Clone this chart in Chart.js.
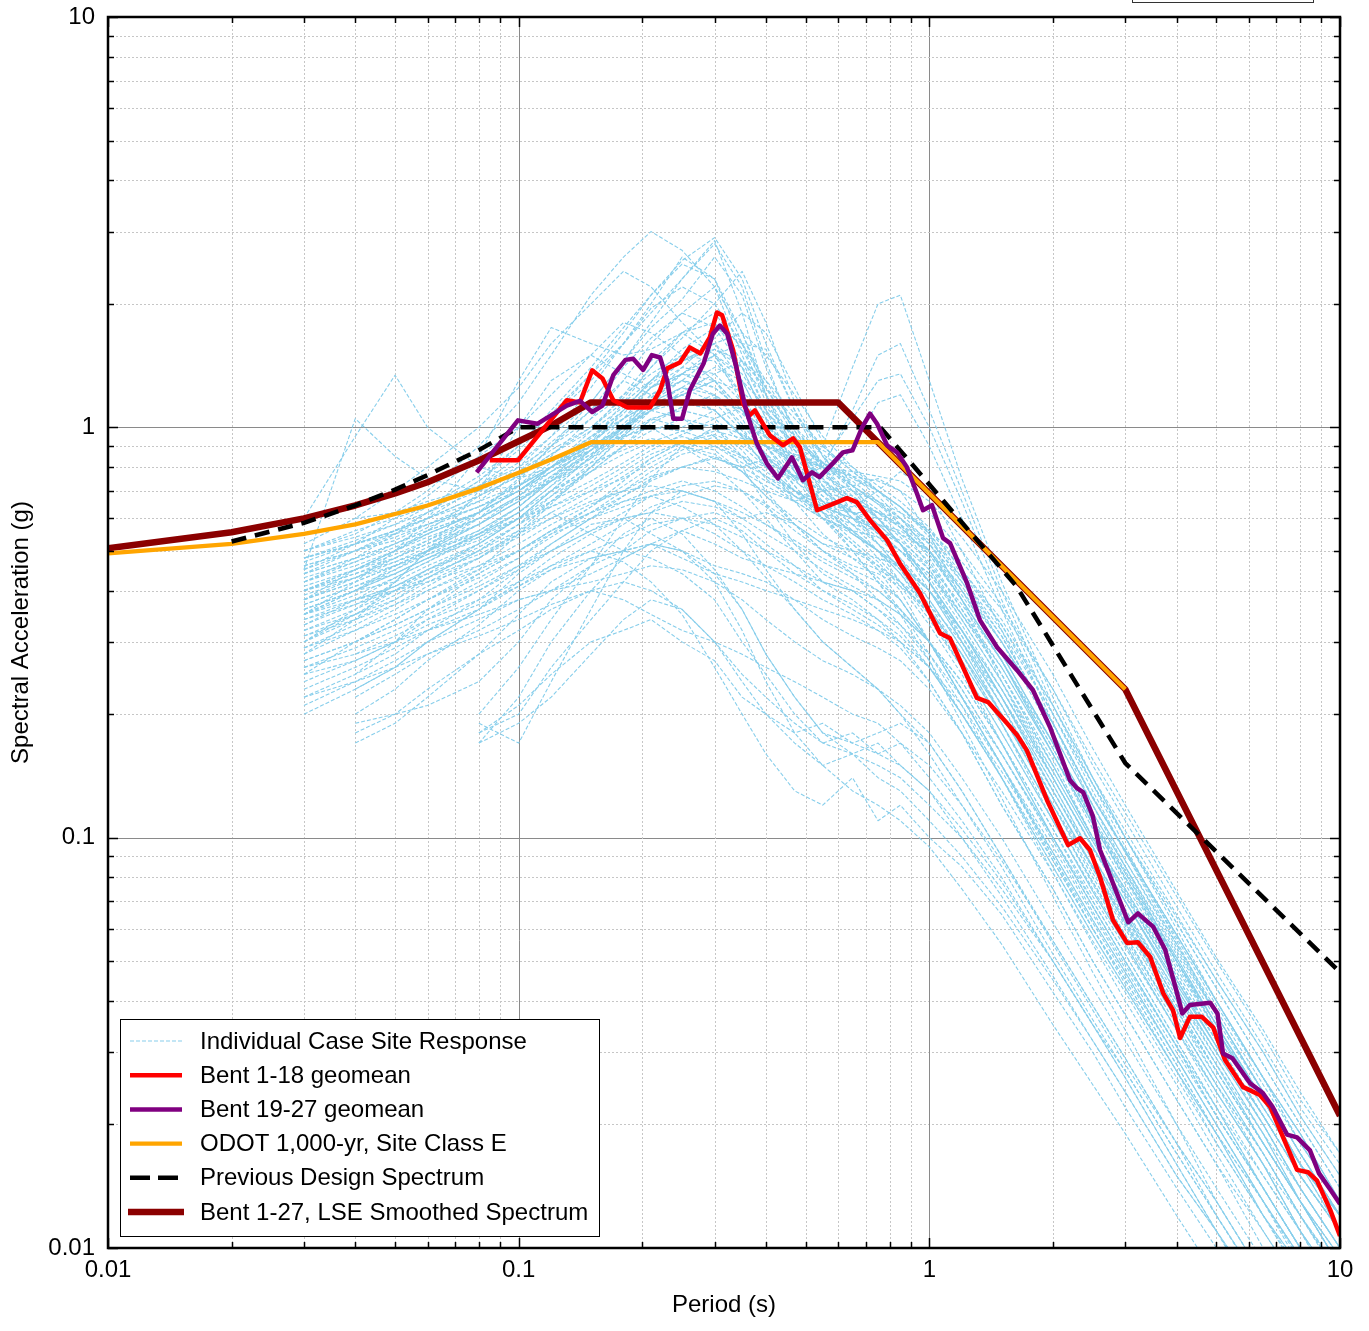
<!DOCTYPE html>
<html>
<head>
<meta charset="utf-8">
<script src="https://cdn.jsdelivr.net/npm/chart.js@4.4.1/dist/chart.umd.min.js"></script>
<style>
  html, body { margin: 0; padding: 0; background: #fff; }
  canvas { display: block; }
</style>
</head>
<body>
<canvas id="spectraChart" width="1369" height="1331"></canvas>
<script>
// Periods (s) shared by the individual case site response spectra
const casePeriods = [0.03, 0.04, 0.05, 0.06, 0.08, 0.1, 0.12, 0.15, 0.18, 0.21, 0.25, 0.3, 0.35, 0.4, 0.47,
  0.55, 0.65, 0.75, 0.85, 1.0, 1.2, 1.5, 2.0, 2.5, 3.0, 4.0, 5.0, 6.5, 8.0, 10];

// Individual case spectral accelerations (g); null where a case was not computed
const caseSpectra = [
  [0.42, 0.48, 0.55, 0.6, 0.72, 0.85, 1.05, 1.35, 1.6, 1.9, 2.3, 2.85, 1.9, 1.2, 0.85, 0.7, 0.62, 0.55, 0.5, 0.42, 0.3, 0.2, 0.12, 0.085, 0.062, 0.038, 0.027, 0.018, 0.013, 0.0095],
  [0.5, 0.55, 0.62, 0.7, 0.9, 1.15, 1.5, 2.1, 2.6, 3.0, 2.7, 2.2, 1.5, 1.1, 0.8, 0.65, 0.55, 0.5, 0.42, 0.35, 0.26, 0.17, 0.1, 0.07, 0.052, 0.032, 0.022, 0.014, 0.01, 0.007],
  [0.38, 0.45, 0.5, 0.56, 0.68, 0.8, 0.95, 1.25, 1.6, 2.0, 2.6, 2.3, 1.6, 1.15, 0.9, 0.72, 0.6, 0.52, 0.45, 0.36, 0.28, 0.19, 0.11, 0.075, 0.056, 0.035, 0.024, 0.016, 0.011, 0.008],
  [0.35, 0.4, 0.46, 0.5, 0.6, 0.72, 0.85, 1.05, 1.3, 1.6, 1.9, 2.2, 1.7, 1.25, 0.95, 0.8, 0.66, 0.6, 0.52, 0.4, 0.3, 0.21, 0.13, 0.09, 0.066, 0.042, 0.03, 0.02, 0.014, 0.01],
  [0.45, 0.52, 0.6, 0.68, 0.85, 1.0, 1.2, 1.5, 1.8, 1.7, 1.5, 1.3, 1.05, 0.85, 0.7, 0.6, 0.52, 0.46, 0.4, 0.3, 0.22, 0.15, 0.09, 0.06, 0.045, 0.028, 0.019, 0.012, 0.009, 0.006],
  [0.3, 0.35, 0.4, 0.44, 0.52, 0.6, 0.7, 0.85, 1.0, 1.15, 1.3, 1.5, 1.35, 1.1, 0.9, 0.75, 0.62, 0.55, 0.48, 0.38, 0.29, 0.2, 0.125, 0.085, 0.064, 0.04, 0.028, 0.019, 0.013, 0.0095],
  [0.4, 0.45, 0.5, 0.55, 0.62, 0.7, 0.8, 0.95, 1.05, 1.15, 1.2, 1.1, 0.95, 0.8, 0.68, 0.6, 0.55, 0.5, 0.45, 0.37, 0.28, 0.19, 0.115, 0.078, 0.058, 0.036, 0.025, 0.017, 0.012, 0.0085],
  [0.48, 0.52, 0.56, 0.6, 0.66, 0.72, 0.8, 0.88, 0.95, 1.0, 0.98, 0.92, 0.85, 0.78, 0.7, 0.62, 0.56, 0.5, 0.46, 0.4, 0.32, 0.23, 0.14, 0.095, 0.07, 0.044, 0.031, 0.021, 0.015, 0.011],
  [0.28, 0.32, 0.36, 0.4, 0.46, 0.52, 0.58, 0.65, 0.7, 0.72, 0.7, 0.66, 0.62, 0.58, 0.53, 0.48, 0.44, 0.4, 0.36, 0.3, 0.24, 0.17, 0.105, 0.072, 0.054, 0.034, 0.024, 0.016, 0.011, 0.008],
  [0.52, 0.6, 0.7, 0.8, 1.0, 1.25, 1.6, 2.0, 2.4, 2.2, 1.8, 1.5, 1.15, 0.9, 0.72, 0.6, 0.52, 0.45, 0.38, 0.3, 0.22, 0.15, 0.088, 0.06, 0.044, 0.027, 0.018, 0.012, 0.0085, 0.006],
  [0.3, 0.36, 0.42, 0.5, 0.62, 0.75, 0.9, 1.1, 1.4, 1.65, 1.9, 1.75, 1.4, 1.05, 0.82, 0.68, 0.58, 0.5, 0.44, 0.35, 0.26, 0.18, 0.11, 0.074, 0.055, 0.034, 0.023, 0.015, 0.011, 0.0075],
  [0.22, 0.25, 0.28, 0.32, 0.38, 0.45, 0.52, 0.6, 0.68, 0.75, 0.8, 0.85, 0.78, 0.68, 0.58, 0.5, 0.44, 0.38, 0.33, 0.27, 0.2, 0.14, 0.085, 0.058, 0.043, 0.027, 0.019, 0.013, 0.009, 0.0065],
  [0.25, 0.3, 0.34, 0.38, 0.45, 0.55, 0.65, 0.8, 0.95, 1.1, 1.2, 1.3, 1.1, 0.9, 0.75, 0.7, 0.72, 0.75, 0.7, 0.55, 0.38, 0.24, 0.14, 0.095, 0.07, 0.043, 0.03, 0.02, 0.014, 0.01],
  [0.36, 0.4, 0.44, 0.48, 0.55, 0.62, 0.72, 0.88, 1.05, 1.25, 1.45, 1.6, 1.4, 1.05, 0.78, 0.62, 0.5, 0.42, 0.36, 0.28, 0.21, 0.14, 0.082, 0.055, 0.04, 0.025, 0.017, 0.011, 0.008, 0.0055],
  [0.2, 0.23, 0.26, 0.3, 0.36, 0.42, 0.48, 0.55, 0.6, 0.62, 0.6, 0.55, 0.5, 0.46, 0.42, 0.38, 0.35, 0.32, 0.29, 0.24, 0.18, 0.12, 0.075, 0.05, 0.037, 0.023, 0.016, 0.011, 0.008, 0.0055],
  [0.5, 0.56, 0.6, 0.64, 0.72, 0.82, 0.95, 1.15, 1.45, 1.8, 2.3, 2.8, 2.2, 1.45, 0.95, 0.72, 0.6, 0.56, 0.5, 0.44, 0.34, 0.24, 0.15, 0.1, 0.075, 0.047, 0.033, 0.022, 0.016, 0.012],
  [0.4, 0.45, 0.48, 0.52, 0.58, 0.66, 0.76, 0.9, 1.1, 1.3, 1.5, 1.45, 1.2, 0.95, 0.78, 0.66, 0.58, 0.52, 0.47, 0.4, 0.31, 0.22, 0.135, 0.09, 0.067, 0.042, 0.029, 0.019, 0.014, 0.01],
  [0.33, 0.38, 0.43, 0.47, 0.55, 0.64, 0.75, 0.92, 1.15, 1.4, 1.7, 1.9, 1.55, 1.2, 0.92, 0.75, 0.65, 0.58, 0.52, 0.42, 0.32, 0.22, 0.13, 0.088, 0.065, 0.04, 0.028, 0.018, 0.013, 0.009],
  [0.35, 0.42, 0.5, 0.6, 0.85, 1.3, 1.75, 1.6, 1.5, 1.55, 1.7, 1.5, 1.2, 0.95, 0.75, 0.62, 0.53, 0.47, 0.41, 0.33, 0.25, 0.17, 0.1, 0.068, 0.05, 0.031, 0.021, 0.014, 0.01, 0.007],
  [0.28, 0.34, 0.42, 0.5, 0.7, 1.0, 1.3, 1.5, 1.35, 1.25, 1.35, 1.5, 1.3, 1.0, 0.8, 0.66, 0.56, 0.48, 0.42, 0.34, 0.26, 0.18, 0.11, 0.074, 0.055, 0.034, 0.024, 0.016, 0.011, 0.008],
  [0.44, 0.5, 0.56, 0.62, 0.74, 0.9, 1.1, 1.4, 1.75, 2.1, 2.5, 2.3, 1.7, 1.2, 0.88, 0.7, 0.6, 0.54, 0.48, 0.4, 0.3, 0.21, 0.125, 0.085, 0.063, 0.039, 0.027, 0.018, 0.013, 0.009],
  [0.38, 0.43, 0.48, 0.53, 0.62, 0.74, 0.9, 1.15, 1.45, 1.75, 2.05, 2.6, 2.1, 1.4, 0.98, 0.78, 0.66, 0.58, 0.52, 0.43, 0.33, 0.23, 0.14, 0.094, 0.07, 0.044, 0.031, 0.021, 0.015, 0.011],
  [0.32, 0.36, 0.4, 0.45, 0.52, 0.6, 0.7, 0.85, 1.0, 1.2, 1.35, 1.5, 1.6, 1.55, 1.1, 0.8, 0.62, 0.52, 0.45, 0.36, 0.27, 0.19, 0.115, 0.078, 0.058, 0.036, 0.025, 0.017, 0.012, 0.0085],
  [0.6, 0.95, 1.34, 1.0, 0.8, 0.75, 0.8, 0.9, 1.0, 1.1, 1.05, 0.95, 0.8, 0.65, 0.52, 0.44, 0.4, 0.36, 0.32, 0.26, 0.2, 0.14, 0.085, 0.058, 0.043, 0.027, 0.019, 0.012, 0.009, 0.006],
  [0.45, 1.05, 0.85, 0.75, 0.7, 0.72, 0.8, 0.9, 0.95, 1.0, 0.9, 0.8, 0.7, 0.6, 0.5, 0.42, 0.38, 0.34, 0.3, 0.24, 0.18, 0.12, 0.075, 0.05, 0.037, 0.023, 0.016, 0.01, 0.0075, 0.005],
  [null, 0.17, 0.19, 0.22, 0.28, 0.35, 0.42, 0.48, 0.5, 0.48, 0.44, 0.38, 0.3, 0.25, 0.2, 0.17, 0.16, 0.15, 0.14, 0.12, 0.1, 0.075, 0.05, 0.035, 0.027, 0.017, 0.012, 0.008, 0.006, 0.004],
  [null, 0.19, 0.2, 0.21, 0.24, 0.3, 0.38, 0.46, 0.55, 0.6, 0.55, 0.45, 0.36, 0.28, 0.22, 0.18, 0.17, 0.18, 0.19, 0.17, 0.13, 0.09, 0.055, 0.038, 0.028, 0.018, 0.012, 0.008, 0.006, 0.004],
  [null, 0.25, 0.3, 0.36, 0.44, 0.5, 0.56, 0.62, 0.66, 0.68, 0.64, 0.58, 0.5, 0.43, 0.36, 0.3, 0.26, 0.23, 0.2, 0.17, 0.13, 0.09, 0.056, 0.039, 0.029, 0.018, 0.013, 0.0085, 0.006, 0.004],
  [null, 0.6, 0.62, 0.66, 0.72, 0.8, 0.9, 1.05, 1.2, 1.35, 1.5, 1.6, 1.3, 1.0, 0.78, 0.64, 0.55, 0.5, 0.46, 0.38, 0.29, 0.2, 0.12, 0.082, 0.061, 0.038, 0.027, 0.018, 0.013, 0.009],
  [null, 0.45, 0.5, 0.55, 0.62, 0.7, 0.8, 0.92, 1.05, 1.15, 1.25, 1.2, 1.0, 0.82, 0.66, 0.55, 0.48, 0.43, 0.38, 0.3, 0.22, 0.15, 0.092, 0.063, 0.047, 0.029, 0.02, 0.013, 0.0095, 0.0065],
  [null, 0.2, 0.23, 0.27, 0.33, 0.4, 0.45, 0.5, 0.47, 0.42, 0.35, 0.26, 0.2, 0.16, 0.13, 0.12, 0.14, 0.11, 0.12, 0.1, 0.085, 0.065, 0.042, 0.03, 0.022, 0.014, 0.01, 0.0065, 0.0048, 0.0034],
  [null, 0.23, 0.26, 0.3, 0.36, 0.44, 0.5, 0.58, 0.6, 0.55, 0.5, 0.42, 0.32, 0.24, 0.18, 0.15, 0.13, 0.12, 0.11, 0.095, 0.075, 0.055, 0.035, 0.025, 0.019, 0.012, 0.0085, 0.0057, 0.0042, 0.003],
  [null, null, null, null, 0.17, 0.22, 0.3, 0.4, 0.48, 0.52, 0.5, 0.44, 0.36, 0.28, 0.22, 0.18, 0.16, 0.14, 0.13, 0.11, 0.09, 0.068, 0.045, 0.032, 0.024, 0.015, 0.011, 0.0072, 0.0053, 0.0038],
  [null, null, null, null, 0.19, 0.17, 0.24, 0.36, 0.5, 0.62, 0.7, 0.66, 0.55, 0.45, 0.36, 0.3, 0.26, 0.23, 0.2, 0.16, 0.12, 0.085, 0.052, 0.036, 0.027, 0.017, 0.012, 0.0079, 0.0058, 0.0041],
  [null, null, null, null, 0.2, 0.26, 0.34, 0.46, 0.6, 0.75, 0.9, 1.0, 0.85, 0.7, 0.58, 0.5, 0.45, 0.42, 0.38, 0.3, 0.22, 0.15, 0.09, 0.062, 0.046, 0.029, 0.02, 0.013, 0.0095, 0.0065],
  [0.38, 0.42, 0.46, 0.5, 0.58, 0.66, 0.75, 0.88, 1.0, 1.1, 1.15, 1.1, 0.95, 0.8, 0.75, 0.9, 1.4, 2.0, 2.1, 1.3, 0.75, 0.42, 0.22, 0.14, 0.1, 0.06, 0.04, 0.026, 0.018, 0.013],
  [0.42, 0.47, 0.52, 0.57, 0.64, 0.72, 0.82, 0.95, 1.1, 1.25, 1.35, 1.3, 1.1, 0.9, 0.75, 0.8, 1.1, 1.5, 1.6, 1.1, 0.7, 0.4, 0.21, 0.135, 0.095, 0.056, 0.037, 0.024, 0.017, 0.012],
  [0.35, 0.4, 0.44, 0.48, 0.55, 0.62, 0.7, 0.8, 0.9, 0.98, 1.05, 1.0, 0.88, 0.75, 0.66, 0.7, 0.9, 1.15, 1.2, 0.9, 0.6, 0.36, 0.19, 0.12, 0.085, 0.05, 0.034, 0.022, 0.016, 0.011],
  [0.46, 0.5, 0.53, 0.58, 0.66, 0.78, 0.92, 1.1, 1.3, 1.2, 1.35, 1.25, 1.1, 0.98, 0.85, 0.8, 0.74, 0.66, 0.58, 0.46, 0.35, 0.25, 0.15, 0.1, 0.072, 0.045, 0.032, 0.021, 0.015, 0.011],
  [0.34, 0.38, 0.41, 0.45, 0.5, 0.58, 0.66, 0.78, 0.9, 1.05, 1.0, 1.1, 0.95, 0.9, 0.82, 0.72, 0.68, 0.62, 0.55, 0.47, 0.36, 0.26, 0.16, 0.105, 0.077, 0.048, 0.034, 0.023, 0.016, 0.012],
  [0.27, 0.3, 0.34, 0.38, 0.44, 0.5, 0.56, 0.64, 0.72, 0.8, 0.88, 0.95, 0.85, 0.8, 0.7, 0.64, 0.6, 0.56, 0.52, 0.45, 0.35, 0.25, 0.155, 0.1, 0.075, 0.046, 0.032, 0.021, 0.015, 0.011],
  [0.4, 0.44, 0.47, 0.5, 0.55, 0.6, 0.64, 0.7, 0.75, 0.82, 0.9, 0.86, 0.78, 0.72, 0.66, 0.6, 0.56, 0.5, 0.44, 0.36, 0.28, 0.2, 0.12, 0.08, 0.06, 0.037, 0.026, 0.017, 0.012, 0.0088],
  [0.24, 0.27, 0.3, 0.34, 0.4, 0.46, 0.52, 0.6, 0.66, 0.7, 0.74, 0.7, 0.64, 0.58, 0.52, 0.47, 0.43, 0.4, 0.36, 0.3, 0.23, 0.16, 0.098, 0.066, 0.049, 0.031, 0.021, 0.014, 0.01, 0.0072],
  [0.3, 0.34, 0.38, 0.43, 0.5, 0.56, 0.62, 0.55, 0.5, 0.52, 0.48, 0.44, 0.42, 0.4, 0.38, 0.36, 0.34, 0.32, 0.3, 0.26, 0.21, 0.15, 0.095, 0.065, 0.048, 0.03, 0.021, 0.014, 0.01, 0.007],
  [0.5, 0.54, 0.58, 0.62, 0.7, 0.78, 0.88, 1.0, 1.15, 1.3, 1.45, 1.6, 1.7, 1.5, 1.2, 0.95, 0.8, 0.7, 0.62, 0.52, 0.4, 0.28, 0.17, 0.115, 0.085, 0.053, 0.037, 0.024, 0.017, 0.012],
  [0.36, 0.4, 0.45, 0.5, 0.58, 0.68, 0.8, 0.98, 1.2, 1.45, 1.7, 1.8, 1.45, 1.1, 0.88, 0.74, 0.66, 0.62, 0.58, 0.5, 0.38, 0.27, 0.16, 0.108, 0.08, 0.05, 0.035, 0.023, 0.016, 0.012],
  [0.42, 0.46, 0.5, 0.54, 0.6, 0.68, 0.78, 0.92, 1.08, 1.25, 1.4, 1.35, 1.15, 1.0, 0.9, 0.82, 0.76, 0.7, 0.64, 0.54, 0.42, 0.3, 0.18, 0.12, 0.088, 0.055, 0.038, 0.025, 0.018, 0.013],
  [0.32, 0.35, 0.38, 0.42, 0.48, 0.55, 0.62, 0.7, 0.78, 0.86, 0.92, 0.96, 0.9, 0.8, 0.7, 0.64, 0.62, 0.62, 0.6, 0.52, 0.4, 0.28, 0.17, 0.11, 0.082, 0.05, 0.035, 0.023, 0.016, 0.012],
  [0.26, 0.28, 0.31, 0.34, 0.38, 0.42, 0.46, 0.5, 0.54, 0.58, 0.6, 0.58, 0.54, 0.5, 0.46, 0.42, 0.4, 0.38, 0.35, 0.3, 0.24, 0.17, 0.105, 0.07, 0.052, 0.032, 0.022, 0.015, 0.011, 0.0075],
  [0.45, 0.5, 0.55, 0.62, 0.74, 0.88, 1.05, 1.3, 1.6, 1.95, 2.2, 2.0, 1.6, 1.25, 0.98, 0.8, 0.68, 0.6, 0.54, 0.45, 0.34, 0.24, 0.145, 0.098, 0.073, 0.045, 0.031, 0.02, 0.014, 0.01],
  [0.21, 0.24, 0.27, 0.3, 0.34, 0.38, 0.4, 0.42, 0.44, 0.46, 0.45, 0.42, 0.38, 0.34, 0.3, 0.27, 0.25, 0.23, 0.21, 0.18, 0.14, 0.1, 0.062, 0.043, 0.032, 0.02, 0.014, 0.0093, 0.0068, 0.0048],
  [0.38, 0.42, 0.46, 0.5, 0.56, 0.64, 0.74, 0.86, 1.0, 1.15, 1.25, 1.15, 0.98, 0.85, 0.74, 0.66, 0.64, 0.7, 0.78, 0.7, 0.5, 0.32, 0.18, 0.12, 0.088, 0.054, 0.037, 0.024, 0.017, 0.012],
  [0.47, 0.52, 0.56, 0.6, 0.68, 0.76, 0.86, 1.0, 1.18, 1.4, 1.65, 2.0, 2.4, 1.8, 1.15, 0.85, 0.7, 0.6, 0.52, 0.42, 0.31, 0.21, 0.125, 0.084, 0.062, 0.039, 0.027, 0.018, 0.013, 0.009],
  [null, 0.38, 0.4, 0.42, 0.46, 0.5, 0.55, 0.6, 0.64, 0.68, 0.7, 0.66, 0.6, 0.55, 0.5, 0.45, 0.41, 0.38, 0.35, 0.3, 0.23, 0.16, 0.1, 0.068, 0.05, 0.031, 0.022, 0.014, 0.01, 0.0072],
  [null, 0.3, 0.33, 0.36, 0.42, 0.48, 0.55, 0.64, 0.74, 0.84, 0.92, 0.88, 0.78, 0.68, 0.6, 0.54, 0.5, 0.46, 0.42, 0.35, 0.27, 0.19, 0.115, 0.077, 0.057, 0.036, 0.025, 0.016, 0.012, 0.0083],
  [null, 0.52, 0.55, 0.58, 0.64, 0.7, 0.78, 0.88, 1.0, 1.12, 1.2, 1.1, 0.96, 0.86, 0.76, 0.68, 0.62, 0.56, 0.5, 0.42, 0.32, 0.22, 0.135, 0.09, 0.066, 0.041, 0.029, 0.019, 0.013, 0.0095],
  [null, 0.18, 0.2, 0.23, 0.28, 0.32, 0.36, 0.4, 0.42, 0.4, 0.36, 0.3, 0.25, 0.22, 0.19, 0.17, 0.18, 0.16, 0.15, 0.13, 0.105, 0.078, 0.05, 0.035, 0.026, 0.016, 0.011, 0.0075, 0.0055, 0.0039],
  [null, null, null, null, 0.18, 0.2, 0.26, 0.34, 0.42, 0.5, 0.56, 0.6, 0.56, 0.5, 0.44, 0.4, 0.37, 0.34, 0.31, 0.26, 0.2, 0.14, 0.088, 0.06, 0.045, 0.028, 0.019, 0.013, 0.0093, 0.0066],
  [null, null, null, null, 0.17, 0.19, 0.22, 0.28, 0.34, 0.38, 0.36, 0.3, 0.24, 0.2, 0.17, 0.15, 0.16, 0.17, 0.15, 0.13, 0.1, 0.072, 0.046, 0.032, 0.024, 0.015, 0.011, 0.007, 0.0051, 0.0036],
  [0.4, 0.44, 0.48, 0.52, 0.6, 0.68, 0.76, 0.86, 0.96, 1.05, 1.1, 1.05, 0.92, 0.82, 0.76, 0.82, 1.05, 1.3, 1.35, 1.0, 0.66, 0.38, 0.2, 0.13, 0.092, 0.055, 0.037, 0.024, 0.017, 0.012],
  [0.35, 0.39, 0.43, 0.47, 0.54, 0.62, 0.72, 0.84, 0.98, 1.12, 1.25, 1.4, 1.3, 1.12, 0.95, 0.82, 0.72, 0.65, 0.6, 0.53, 0.43, 0.32, 0.2, 0.135, 0.1, 0.062, 0.043, 0.028, 0.02, 0.014],
  [0.29, 0.33, 0.37, 0.41, 0.48, 0.56, 0.66, 0.8, 0.96, 1.15, 1.35, 1.55, 1.45, 1.25, 1.05, 0.9, 0.78, 0.7, 0.64, 0.55, 0.44, 0.33, 0.21, 0.14, 0.1, 0.064, 0.045, 0.03, 0.021, 0.015],
  [0.44, 0.48, 0.52, 0.56, 0.62, 0.7, 0.8, 0.92, 1.05, 1.2, 1.3, 1.25, 1.1, 0.95, 0.84, 0.76, 0.7, 0.66, 0.62, 0.56, 0.47, 0.36, 0.23, 0.155, 0.115, 0.072, 0.05, 0.033, 0.023, 0.017],
  [0.37, 0.41, 0.44, 0.48, 0.53, 0.6, 0.68, 0.78, 0.9, 1.02, 1.12, 1.2, 1.08, 0.94, 0.8, 0.7, 0.62, 0.58, 0.55, 0.5, 0.4, 0.3, 0.19, 0.125, 0.093, 0.058, 0.04, 0.026, 0.019, 0.013],
  [0.31, 0.35, 0.39, 0.43, 0.5, 0.58, 0.68, 0.82, 0.98, 1.18, 1.4, 1.65, 1.9, 1.7, 1.25, 0.92, 0.72, 0.6, 0.52, 0.42, 0.32, 0.22, 0.13, 0.088, 0.065, 0.04, 0.028, 0.018, 0.013, 0.009],
  [0.48, 0.53, 0.58, 0.64, 0.76, 0.9, 1.08, 1.35, 1.7, 2.1, 2.55, 2.9, 2.3, 1.6, 1.1, 0.85, 0.72, 0.65, 0.58, 0.48, 0.36, 0.25, 0.15, 0.1, 0.074, 0.046, 0.032, 0.021, 0.015, 0.011],
  [0.23, 0.26, 0.29, 0.32, 0.36, 0.41, 0.46, 0.52, 0.58, 0.64, 0.68, 0.72, 0.7, 0.65, 0.58, 0.52, 0.48, 0.45, 0.42, 0.37, 0.3, 0.22, 0.14, 0.095, 0.07, 0.043, 0.03, 0.02, 0.014, 0.01],
  [0.43, 0.47, 0.51, 0.55, 0.62, 0.7, 0.8, 0.94, 1.1, 1.3, 1.55, 1.75, 1.6, 1.3, 1.0, 0.82, 0.7, 0.63, 0.57, 0.49, 0.38, 0.27, 0.165, 0.11, 0.08, 0.05, 0.035, 0.023, 0.016, 0.012],
  [0.36, 0.4, 0.42, 0.46, 0.52, 0.6, 0.7, 0.78, 0.86, 0.92, 0.98, 1.02, 0.96, 0.9, 0.86, 0.8, 0.72, 0.66, 0.6, 0.5, 0.39, 0.28, 0.17, 0.115, 0.085, 0.052, 0.036, 0.024, 0.017, 0.012],
  [0.41, 0.45, 0.49, 0.53, 0.6, 0.67, 0.74, 0.82, 0.88, 0.94, 0.9, 0.84, 0.8, 0.84, 0.76, 0.7, 0.66, 0.62, 0.57, 0.49, 0.38, 0.27, 0.165, 0.11, 0.082, 0.051, 0.035, 0.023, 0.016, 0.012],
  [0.27, 0.3, 0.33, 0.36, 0.41, 0.46, 0.5, 0.56, 0.6, 0.62, 0.66, 0.64, 0.6, 0.62, 0.58, 0.52, 0.5, 0.48, 0.46, 0.4, 0.32, 0.23, 0.145, 0.098, 0.072, 0.045, 0.031, 0.021, 0.015, 0.011],
  [0.33, 0.37, 0.41, 0.45, 0.51, 0.58, 0.64, 0.72, 0.8, 0.88, 0.96, 1.05, 1.12, 1.05, 0.92, 0.82, 0.75, 0.7, 0.64, 0.56, 0.45, 0.34, 0.21, 0.14, 0.104, 0.065, 0.045, 0.03, 0.021, 0.015],
  [0.46, 0.5, 0.54, 0.58, 0.64, 0.72, 0.8, 0.9, 1.0, 1.1, 1.2, 1.3, 1.22, 1.08, 0.96, 0.88, 0.8, 0.72, 0.66, 0.57, 0.45, 0.33, 0.2, 0.135, 0.1, 0.062, 0.043, 0.028, 0.02, 0.014],
  [0.22, 0.24, 0.26, 0.28, 0.31, 0.34, 0.37, 0.4, 0.38, 0.35, 0.32, 0.3, 0.28, 0.26, 0.24, 0.22, 0.2, 0.19, 0.17, 0.15, 0.12, 0.088, 0.056, 0.039, 0.029, 0.018, 0.013, 0.0085, 0.0062, 0.0044],
  [0.25, 0.27, 0.3, 0.33, 0.37, 0.41, 0.45, 0.48, 0.5, 0.52, 0.5, 0.46, 0.44, 0.42, 0.38, 0.34, 0.31, 0.29, 0.27, 0.23, 0.18, 0.13, 0.082, 0.056, 0.042, 0.026, 0.018, 0.012, 0.0087, 0.0062],
  [null, 0.28, 0.3, 0.32, 0.35, 0.38, 0.4, 0.44, 0.48, 0.52, 0.56, 0.52, 0.48, 0.46, 0.44, 0.42, 0.4, 0.36, 0.33, 0.28, 0.22, 0.16, 0.1, 0.068, 0.05, 0.031, 0.021, 0.014, 0.01, 0.0072],
  [null, 0.22, 0.25, 0.28, 0.32, 0.36, 0.4, 0.46, 0.5, 0.56, 0.6, 0.62, 0.58, 0.52, 0.46, 0.4, 0.36, 0.33, 0.3, 0.26, 0.2, 0.145, 0.092, 0.063, 0.047, 0.029, 0.02, 0.013, 0.0095, 0.0067],
  [null, null, null, null, 0.18, 0.21, 0.25, 0.3, 0.32, 0.34, 0.3, 0.27, 0.22, 0.2, 0.18, 0.19, 0.17, 0.16, 0.17, 0.14, 0.11, 0.08, 0.05, 0.035, 0.026, 0.016, 0.011, 0.0075, 0.0054, 0.0038],
  [0.39, 0.43, 0.47, 0.51, 0.58, 0.66, 0.74, 0.84, 0.94, 1.04, 1.12, 1.18, 1.1, 0.98, 0.88, 0.8, 0.76, 0.74, 0.7, 0.62, 0.5, 0.37, 0.23, 0.15, 0.11, 0.068, 0.047, 0.031, 0.022, 0.016],
  [0.31, 0.34, 0.37, 0.4, 0.45, 0.5, 0.56, 0.62, 0.68, 0.74, 0.8, 0.78, 0.74, 0.7, 0.66, 0.6, 0.56, 0.54, 0.5, 0.44, 0.35, 0.26, 0.16, 0.108, 0.08, 0.05, 0.034, 0.023, 0.016, 0.012],
  [0.48, 0.52, 0.56, 0.6, 0.68, 0.76, 0.86, 0.98, 1.12, 1.28, 1.45, 1.55, 1.4, 1.2, 1.0, 0.86, 0.76, 0.68, 0.6, 0.5, 0.38, 0.27, 0.16, 0.108, 0.079, 0.049, 0.034, 0.022, 0.016, 0.011],
  [0.35, 0.38, 0.41, 0.44, 0.49, 0.55, 0.6, 0.66, 0.7, 0.76, 0.8, 0.84, 0.8, 0.74, 0.68, 0.64, 0.6, 0.58, 0.56, 0.5, 0.41, 0.3, 0.19, 0.125, 0.092, 0.057, 0.039, 0.026, 0.018, 0.013],
  [0.44, 0.48, 0.52, 0.56, 0.62, 0.7, 0.78, 0.88, 0.98, 1.1, 1.22, 1.35, 1.45, 1.3, 1.08, 0.9, 0.78, 0.7, 0.64, 0.55, 0.43, 0.31, 0.19, 0.125, 0.093, 0.058, 0.04, 0.026, 0.019, 0.013],
  [0.34, 0.37, 0.4, 0.43, 0.48, 0.54, 0.6, 0.68, 0.76, 0.84, 0.92, 0.98, 0.94, 0.9, 0.84, 0.8, 0.78, 0.76, 0.74, 0.66, 0.54, 0.4, 0.25, 0.165, 0.12, 0.074, 0.051, 0.034, 0.024, 0.017],
  [0.29, 0.32, 0.35, 0.38, 0.43, 0.48, 0.54, 0.62, 0.7, 0.78, 0.86, 0.9, 0.84, 0.76, 0.68, 0.62, 0.58, 0.56, 0.53, 0.46, 0.37, 0.27, 0.17, 0.112, 0.083, 0.051, 0.035, 0.023, 0.016, 0.012],
  [0.4, 0.43, 0.46, 0.49, 0.54, 0.6, 0.66, 0.74, 0.82, 0.9, 0.95, 0.9, 0.82, 0.76, 0.7, 0.66, 0.62, 0.6, 0.58, 0.52, 0.42, 0.31, 0.19, 0.126, 0.093, 0.058, 0.04, 0.026, 0.019, 0.013],
  [0.37, 0.41, 0.45, 0.49, 0.56, 0.64, 0.74, 0.88, 1.02, 1.18, 1.3, 1.2, 1.02, 0.86, 0.72, 0.6, 0.5, 0.42, 0.35, 0.27, 0.19, 0.125, 0.072, 0.047, 0.034, 0.02, 0.013, 0.0085, 0.006, 0.0042],
  [0.26, 0.29, 0.32, 0.35, 0.4, 0.45, 0.5, 0.56, 0.62, 0.68, 0.72, 0.74, 0.7, 0.64, 0.56, 0.5, 0.46, 0.44, 0.41, 0.36, 0.28, 0.2, 0.125, 0.084, 0.062, 0.038, 0.026, 0.017, 0.012, 0.0087]
];

// Bent 1-18 geomean
const bent118Periods = [0.085, 0.0996, 0.131, 0.141, 0.151, 0.16, 0.17, 0.184, 0.209, 0.221, 0.23, 0.247, 0.261, 0.277,
  0.292, 0.304, 0.313, 0.333, 0.352, 0.365, 0.376, 0.409, 0.44, 0.466, 0.484, 0.533, 0.573, 0.63, 0.666, 0.717, 0.789,
  0.848, 0.949, 1.062, 1.123, 1.306, 1.39, 1.546, 1.635, 1.729, 1.935, 2.177, 2.328, 2.461, 2.604, 2.8, 3.03, 3.22,
  3.45, 3.71, 3.92, 4.08, 4.31, 4.61, 4.91, 5.25, 5.8, 6.38, 6.76, 7.27, 7.86, 8.36, 8.79, 9.46, 10];
const bent118Sa = [0.831, 0.831, 1.164, 1.15, 1.377, 1.316, 1.164, 1.118, 1.118, 1.231, 1.392, 1.439, 1.566, 1.514,
  1.656, 1.905, 1.875, 1.54, 1.144, 1.07, 1.1, 0.956, 0.904, 0.94, 0.894, 0.628, 0.646, 0.672, 0.657, 0.594, 0.531,
  0.466, 0.394, 0.315, 0.306, 0.219, 0.214, 0.19, 0.178, 0.163, 0.1234, 0.0959, 0.0997, 0.0933, 0.0802, 0.063, 0.0554, 0.0556,
  0.0512, 0.0418, 0.038, 0.0325, 0.0366, 0.0366, 0.0345, 0.0287, 0.0247, 0.0236, 0.0221, 0.0186, 0.0155, 0.0153, 0.0146, 0.0124, 0.0107];

// Bent 19-27 geomean
const bent1927Periods = [0.079, 0.0996, 0.111, 0.131, 0.141, 0.151, 0.16, 0.17, 0.182, 0.19, 0.201, 0.211, 0.221, 0.23,
  0.238, 0.25, 0.261, 0.282, 0.297, 0.309, 0.322, 0.339, 0.358, 0.38, 0.402, 0.428, 0.463, 0.492, 0.518, 0.54, 0.582,
  0.616, 0.65, 0.686, 0.717, 0.746, 0.789, 0.834, 0.882, 0.933, 0.965, 1.015, 1.08, 1.123, 1.236, 1.328, 1.462, 1.635,
  1.787, 1.967, 2.2, 2.29, 2.37, 2.5, 2.604, 3.05, 3.22, 3.51, 3.75, 4.01, 4.13, 4.31, 4.83, 5.03, 5.19, 5.47, 6.04,
  6.48, 6.85, 7.43, 7.86, 8.45, 8.89, 9.46, 10];
const bent1927Sa = [0.777, 1.04, 1.02, 1.13, 1.16, 1.09, 1.13, 1.34, 1.46, 1.47, 1.38, 1.5, 1.48, 1.3,
  1.05, 1.05, 1.23, 1.43, 1.69, 1.77, 1.69, 1.4, 1.1, 0.914, 0.817, 0.751, 0.845, 0.743, 0.777, 0.756, 0.817,
  0.869, 0.879, 1.0, 1.08, 1.02, 0.904, 0.869, 0.799, 0.69, 0.628, 0.646, 0.537, 0.522, 0.417, 0.339, 0.291, 0.256,
  0.229, 0.186, 0.138, 0.132, 0.129, 0.113, 0.0933, 0.0622, 0.0654, 0.0606, 0.0534, 0.0418, 0.0373, 0.0391, 0.0396, 0.0373, 0.0298, 0.029, 0.0252,
  0.0239, 0.0221, 0.0189, 0.0186, 0.0173, 0.0152, 0.0139, 0.0128];

// ODOT 1,000-yr, Site Class E
const odotPeriods = [0.01, 0.02, 0.03, 0.04, 0.05, 0.06, 0.08, 0.1, 0.12, 0.15, 0.75, 1.0, 1.5, 2.0, 3.0];
const odotSa = [0.493, 0.52, 0.55, 0.58, 0.615, 0.645, 0.71, 0.775, 0.835, 0.92, 0.92, 0.69, 0.46, 0.345, 0.23];

// Previous design spectrum
const prevPeriods = [0.02, 0.03, 0.04, 0.05, 0.06, 0.08, 0.1, 0.76, 1.63, 3.0, 10];
const prevSa = [0.527, 0.585, 0.645, 0.705, 0.765, 0.88, 1.0, 1.0, 0.41, 0.152, 0.047];

// Bent 1-27, LSE smoothed spectrum
const lsePeriods = [0.01, 0.02, 0.03, 0.04, 0.05, 0.06, 0.08, 0.1, 0.12, 0.15, 0.6, 3.0, 10];
const lseSa = [0.507, 0.555, 0.6, 0.645, 0.69, 0.735, 0.83, 0.925, 1.01, 1.15, 1.15, 0.23, 0.021];

const decadeLabels = { '-2': '0.01', '-1': '0.1', '0': '1', '1': '10' };
const FONT = '"Liberation Sans", Arial, Helvetica, sans-serif';

function toPoints(periods, values) {
  const pts = [];
  periods.forEach((t, i) => {
    if (values[i] !== null && values[i] !== undefined) pts.push({ x: t, y: values[i] });
  });
  return pts;
}

const caseColor = '#87CEEB';
const datasets = [];

caseSpectra.forEach((sa, i) => {
  datasets.push({
    label: 'Individual Case Site Response',
    data: toPoints(casePeriods, sa),
    borderColor: caseColor,
    borderWidth: 1.1,
    borderDash: [4, 2],
    order: 10,
    clip: 0,
    showInLegend: i === 0,
    legendIndex: 0
  });
});

datasets.push({
  label: 'Bent 1-27, LSE Smoothed Spectrum',
  data: toPoints(lsePeriods, lseSa),
  borderColor: '#8B0000', borderWidth: 6.5, order: 5,
  showInLegend: true, legendIndex: 5
});
datasets.push({
  label: 'ODOT 1,000-yr, Site Class E',
  data: toPoints(odotPeriods, odotSa),
  borderColor: '#FFA500', borderWidth: 4.3, order: 4,
  showInLegend: true, legendIndex: 3
});
datasets.push({
  label: 'Previous Design Spectrum',
  data: toPoints(prevPeriods, prevSa),
  borderColor: '#000000', borderWidth: 4.5, borderDash: [15, 9], borderCapStyle: 'butt', order: 3,
  showInLegend: true, legendIndex: 4
});
datasets.push({
  label: 'Bent 1-18 geomean',
  data: toPoints(bent118Periods, bent118Sa),
  borderColor: '#FF0000', borderWidth: 4.5, order: 2,
  showInLegend: true, legendIndex: 1
});
datasets.push({
  label: 'Bent 19-27 geomean',
  data: toPoints(bent1927Periods, bent1927Sa),
  borderColor: '#800080', borderWidth: 4.5, order: 1,
  showInLegend: true, legendIndex: 2
});

// grid values 1..9 x each decade
function gridValues() {
  const vals = [];
  [0.01, 0.1, 1].forEach(d => {
    for (let m = 1; m <= 9; m++) vals.push({ v: d * m, major: m === 1 });
  });
  vals.push({ v: 10, major: true });
  return vals;
}

// Draw grid below the data
const gridPlugin = {
  id: 'gridPlugin',
  beforeDatasetsDraw(chart) {
    const { ctx, chartArea: a, scales } = chart;
    ctx.save();
    ctx.lineWidth = 1;
    gridValues().forEach(g => {
      const px = Math.round(scales.x.getPixelForValue(g.v)) + 0.5;
      const py = Math.round(scales.y.getPixelForValue(g.v)) + 0.5;
      ctx.strokeStyle = g.major ? '#8a8a8a' : '#c6c6c6';
      ctx.setLineDash(g.major ? [] : [2, 2]);
      ctx.beginPath();
      ctx.moveTo(px, a.top); ctx.lineTo(px, a.bottom);
      ctx.moveTo(a.left, py); ctx.lineTo(a.right, py);
      ctx.stroke();
    });
    ctx.restore();
  }
};

// Legend box inside plot + frame with inward ticks
const framePlugin = {
  id: 'framePlugin',
  afterDatasetsDraw(chart) {
    const { ctx } = chart;
    const items = chart.data.datasets.filter(d => d.showInLegend)
      .sort((p, q) => p.legendIndex - q.legendIndex);
    const box = { x: 120.5, y: 1019.5, w: 479, h: 217 };
    ctx.save();
    ctx.fillStyle = '#ffffff';
    ctx.fillRect(box.x, box.y, box.w, box.h);
    ctx.strokeStyle = '#000000';
    ctx.lineWidth = 1;
    ctx.strokeRect(box.x, box.y, box.w, box.h);
    ctx.font = '24px ' + FONT;
    ctx.textBaseline = 'middle';
    ctx.fillStyle = '#000000';
    items.forEach((d, i) => {
      const yc = 1041 + i * 34.2;
      ctx.strokeStyle = d.borderColor;
      ctx.lineWidth = d.borderWidth;
      ctx.lineCap = 'butt';
      ctx.setLineDash(d.legendIndex === 4 ? [20, 8] : (d.borderDash || []));
      ctx.beginPath();
      ctx.moveTo(d.legendIndex === 5 ? 128 : 130, yc);
      ctx.lineTo(d.legendIndex === 5 ? 184 : 182, yc);
      ctx.stroke();
      ctx.setLineDash([]);
      ctx.fillText(d.label, 200, yc + 1);
    });
    ctx.restore();
  },
  afterDraw(chart) {
    const { ctx, chartArea: a, scales } = chart;
    ctx.save();
    ctx.strokeStyle = '#000000';
    ctx.lineWidth = 1.5;
    gridValues().forEach(g => {
      const len = g.major ? 10 : 6;
      const px = Math.round(scales.x.getPixelForValue(g.v)) + 0.5;
      const py = Math.round(scales.y.getPixelForValue(g.v)) + 0.5;
      ctx.beginPath();
      ctx.moveTo(px, a.bottom); ctx.lineTo(px, a.bottom - len);
      ctx.moveTo(px, a.top); ctx.lineTo(px, a.top + len);
      ctx.moveTo(a.left, py); ctx.lineTo(a.left + len, py);
      ctx.moveTo(a.right, py); ctx.lineTo(a.right - len, py);
      ctx.stroke();
    });
    ctx.lineWidth = 2.5;
    ctx.strokeRect(a.left, a.top, a.right - a.left, a.bottom - a.top);
    // partially visible box above the plot
    ctx.lineWidth = 1;
    ctx.strokeStyle = '#333333';
    ctx.strokeRect(1132.5, -6, 181, 8.5);
    ctx.restore();
  }
};

Chart.defaults.font.family = FONT;
Chart.defaults.color = '#000000';

new Chart(document.getElementById('spectraChart').getContext('2d'), {
  type: 'scatter',
  data: { datasets: datasets.map(d => Object.assign({
    showLine: true, pointRadius: 0, pointHoverRadius: 0, tension: 0, fill: false,
    borderJoinStyle: 'round'
  }, d)) },
  options: {
    responsive: false,
    animation: false,
    events: [],
    layout: { padding: { top: 17, right: 29, left: 0, bottom: 0 } },
    plugins: { legend: { display: false }, tooltip: { enabled: false } },
    scales: {
      x: {
        type: 'logarithmic',
        min: 0.01, max: 10,
        grid: { display: false, drawTicks: false },
        border: { display: false },
        ticks: {
          autoSkip: false, maxRotation: 0, padding: 8,
          font: { size: 24 },
          callback(value) {
            const e = Math.log10(value), r = Math.round(e);
            return Math.abs(e - r) < 1e-6 ? decadeLabels[r] : '';
          }
        },
        title: { display: true, text: 'Period (s)', font: { size: 24 }, padding: { top: 0, bottom: 11 } },
        afterFit(scale) { scale.height = 83; scale.paddingLeft = 0; scale.paddingRight = 0; }
      },
      y: {
        type: 'logarithmic',
        min: 0.01, max: 10,
        grid: { display: false, drawTicks: false },
        border: { display: false },
        ticks: {
          autoSkip: false, padding: 13,
          font: { size: 24 },
          callback(value) {
            const e = Math.log10(value), r = Math.round(e);
            return Math.abs(e - r) < 1e-6 ? decadeLabels[r] : '';
          }
        },
        title: { display: true, text: 'Spectral Acceleration (g)', font: { size: 24 }, padding: { top: 7, bottom: 0 } },
        afterFit(scale) { scale.width = 108; scale.paddingTop = 0; scale.paddingBottom = 0; }
      }
    }
  },
  plugins: [gridPlugin, framePlugin]
});
</script>
</body>
</html>
